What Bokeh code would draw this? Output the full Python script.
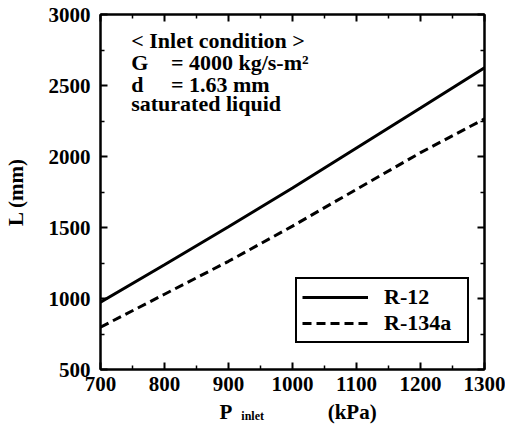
import math
from bokeh.plotting import figure
from bokeh.layouts import column
from bokeh.models import (Label, Legend, LegendItem, LinearAxis, FixedTicker,
                          Range1d, CustomLabelingPolicy)
from bokeh.embed import file_html
from bokeh.resources import INLINE

# ---- data ----
p_inlet = [700, 800, 900, 1000, 1100, 1200, 1300]
L_r12 = [974, 1238, 1505, 1778, 2060, 2342, 2625]
L_r134a = [798, 1030, 1262, 1510, 1769, 2027, 2265]

x_ticks = [700, 800, 900, 1000, 1100, 1200, 1300]
x_minor = [750, 850, 950, 1050, 1150, 1250]
y_ticks = [500, 1000, 1500, 2000, 2500, 3000]
y_minor = [750, 1250, 1750, 2250, 2750]

series_names = ["R-12", "R-134a"]
condition_lines = ["< Inlet condition >", "G", "= 4000 kg/s-m²", "d",
                   "= 1.63 mm", "saturated liquid"]

FONT = "Liberation Serif"
TICK_SIZE = "21px"
W = 505
MAIN_H = 399
SH = 425 - MAIN_H

x_range = Range1d(700, 1300)

p = figure(width=W, height=MAIN_H, output_backend="svg",
           toolbar_location=None, x_range=x_range, y_range=Range1d(500, 3000),
           min_border_left=96, min_border_right=21, min_border_top=14,
           min_border_bottom=MAIN_H - 369, x_axis_type=None,
           y_axis_type=None)
p.grid.visible = False
p.outline_line_color = "black"
p.outline_line_width = 2
p.background_fill_color = "white"
p.border_fill_color = "white"

hide_all = CustomLabelingPolicy(
    code="for (const i of Array.from(indices)) indices.unset(i)")


def style_axis(ax, show_labels):
    ax.axis_line_width = 2
    ax.axis_line_color = "black"
    ax.major_tick_in = 7
    ax.major_tick_out = 0
    ax.minor_tick_in = 4
    ax.minor_tick_out = 0
    ax.major_tick_line_width = 2
    ax.minor_tick_line_width = 1.5
    ax.major_label_text_font = FONT
    ax.major_label_text_font_style = "bold"
    ax.major_label_text_color = "black"
    if show_labels:
        ax.major_label_text_font_size = TICK_SIZE
    else:
        ax.major_label_text_font_size = "0px"
        ax.major_label_standoff = 0
        ax.major_label_policy = hide_all


xt = FixedTicker(ticks=x_ticks, minor_ticks=x_minor)
yt = FixedTicker(ticks=y_ticks, minor_ticks=y_minor)

xb = LinearAxis(ticker=xt)
style_axis(xb, True)
xb.major_label_standoff = 7
p.add_layout(xb, "below")

xa = LinearAxis(ticker=xt)
style_axis(xa, False)
p.add_layout(xa, "above")

yl = LinearAxis(ticker=yt, axis_label="L (mm)")
style_axis(yl, True)
yl.major_label_standoff = 10
yl.axis_label_standoff = 18
yl.axis_label_text_font = FONT
yl.axis_label_text_font_style = "bold"
yl.axis_label_text_font_size = "21px"
yl.axis_label_text_color = "black"
p.add_layout(yl, "left")

yr = LinearAxis(ticker=yt)
style_axis(yr, False)
p.add_layout(yr, "right")

r1 = p.line(p_inlet, L_r12, line_color="black", line_width=3)
r2 = p.line(p_inlet, L_r134a, line_color="black", line_width=3,
            line_dash="9 5")

legend = Legend(items=[LegendItem(label=series_names[0], renderers=[r1]),
                       LegendItem(label=series_names[1], renderers=[r2])],
                location=(195, 26))
legend.label_text_font = FONT
legend.label_text_font_style = "bold"
legend.label_text_font_size = "22px"
legend.label_text_color = "black"
legend.glyph_width = 66
legend.glyph_height = 22
legend.label_height = 22
legend.label_width = 78
legend.label_standoff = 16
legend.padding = 5
legend.spacing = 0
legend.margin = 0
legend.border_line_color = "black"
legend.border_line_alpha = 1.0
legend.border_line_width = 2
legend.background_fill_alpha = 1.0
p.add_layout(legend, "center")


def txt(fig, x, y, s, size="22px", **kw):
    lab = Label(x=x, y=y, text=s, text_font=FONT, text_font_style="bold",
                text_font_size=size, text_color="black",
                text_baseline="middle", text_align="left", **kw)
    fig.add_layout(lab)
    return lab


# condition text block (placed in data space)
txt(p, 748, 2816, condition_lines[0])
txt(p, 748, 2660, condition_lines[1])
txt(p, 810, 2660, condition_lines[2])
txt(p, 748, 2510, condition_lines[3])
txt(p, 810, 2510, condition_lines[4])
txt(p, 748, 2373, condition_lines[5])

# strip carrying the x-axis title with its subscript (shares the x range,
# its frame is aligned with the main frame by the column layout)
s = figure(width=W, height=SH, output_backend="svg", toolbar_location=None,
           x_range=x_range, y_range=Range1d(0, SH),
           min_border_left=96, min_border_right=21, min_border_top=0,
           min_border_bottom=0, x_axis_type=None, y_axis_type=None)
s.grid.visible = False
s.outline_line_color = None
s.background_fill_color = "white"
s.border_fill_color = "white"
txt(s, 886, 14, "P", size="21px")
txt(s, 920, 9.5, "inlet", size="12px")
txt(s, 1055, 14, "(kPa)", size="21px")

layout = column(p, s, spacing=0)
open("out.html", "w").write(file_html(layout, INLINE))
